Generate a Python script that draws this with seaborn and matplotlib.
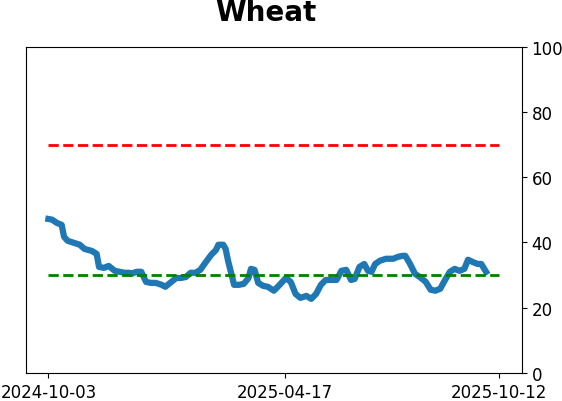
import pandas as pd
import matplotlib
matplotlib.use("Agg")
import matplotlib.pyplot as plt
import seaborn as sns

# Data
start_date = "2024-10-03"
end_date = "2025-10-12"
day_offsets = [0, 3, 7, 11, 13, 16, 21, 26, 30, 36, 40, 42, 46, 50, 55, 59, 63, 67,
               69, 73, 77, 81, 85, 89, 94, 97, 102, 106, 110, 114, 118, 122, 126,
               130, 135, 139, 141, 145, 147, 149, 152, 154, 158, 162, 166, 168, 171,
               174, 178, 182, 187, 191, 197, 201, 205, 209, 214, 218, 222, 226, 230,
               235, 239, 243, 247, 251, 254, 258, 262, 265, 268, 271, 275, 280, 286,
               290, 294, 296, 300, 304, 308, 313, 317, 321, 325, 329, 333, 337, 341,
               345, 348, 352, 356, 359, 363]
values = [47.2, 47.0, 46.0, 45.4, 41.7, 40.5, 39.9, 39.3, 38.0, 37.4, 36.5, 32.5,
          32.2, 32.8, 31.3, 31.0, 30.7, 30.7, 30.4, 31.0, 31.0, 27.9, 27.6, 27.6,
          27.0, 26.4, 27.9, 29.1, 29.1, 29.4, 30.7, 30.7, 31.6, 33.7, 36.2, 37.7,
          39.3, 39.3, 38.0, 34.4, 30.0, 27.0, 27.0, 27.3, 29.1, 31.9, 31.6, 27.6,
          26.7, 26.4, 25.2, 26.7, 29.1, 27.9, 24.2, 23.0, 23.6, 22.7, 24.2, 27.0,
          28.5, 28.5, 28.5, 31.3, 31.6, 28.5, 28.8, 32.5, 33.4, 31.3, 31.0, 33.4,
          34.4, 35.0, 35.0, 35.6, 35.9, 35.9, 33.4, 30.4, 29.4, 27.9, 25.5, 25.2,
          25.8, 28.5, 31.0, 31.9, 31.3, 31.9, 34.7, 34.0, 33.4, 33.4, 31.0]
upper_level = 70
lower_level = 30
tick_dates = ["2024-10-03", "2025-04-17", "2025-10-12"]

df = pd.DataFrame({
    "date": pd.Timestamp(start_date) + pd.to_timedelta(day_offsets, unit="D"),
    "value": values,
})
span = pd.to_datetime([start_date, end_date])

fig = plt.figure(figsize=(5.62, 4.02), dpi=100)
ax = fig.add_axes([0.046, 0.07, 0.8826, 0.811])

sns.lineplot(data=df, x="date", y="value", ax=ax, color="#1f77b4", linewidth=4.5)
ax.plot(span, [upper_level, upper_level], color="red", linestyle="--", linewidth=2)
ax.plot(span, [lower_level, lower_level], color="green", linestyle="--", linewidth=2)

ax.set_ylim(0, 100)
ax.yaxis.tick_right()
ax.set_yticks([0, 20, 40, 60, 80, 100])
ax.set_xticks(pd.to_datetime(tick_dates))
ax.set_xticklabels(tick_dates)
ax.tick_params(labelsize=12)
ax.set_xlabel("")
ax.set_ylabel("")
ax.set_title("Wheat", fontsize=20, fontweight="bold", pad=19, x=0.484)

fig.savefig("out.png", dpi=100)
